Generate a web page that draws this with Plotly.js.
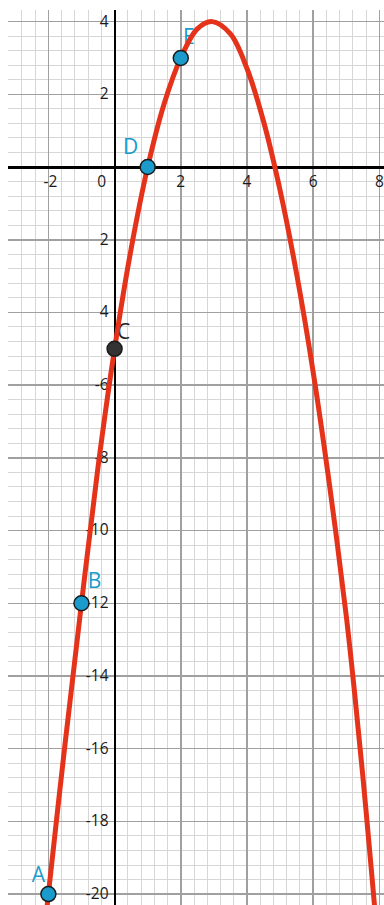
<!DOCTYPE html>
<html>
<head>
<meta charset="utf-8">
<script src="https://cdn.plot.ly/plotly-3.0.1.min.js"></script>
<style>
  html, body { margin: 0; padding: 0; background: #ffffff; }
  #chart { width: 384px; height: 905px; }
</style>
</head>
<body>
<div id="chart"></div>
<script>
// Parabola traced across the grid, sampled every half unit of x
const curveX = [-2.05, -2.0, -1.5, -1.0, -0.5, 0, 0.5, 1.0, 1.5, 2.0, 2.5, 2.95, 3.5, 4.0, 4.5, 5.0, 5.5, 6.0, 6.5, 7.0, 7.25, 7.5, 7.75, 7.9];
const curveY = [-20.45, -20, -15.9, -12, -8.25, -5, -2.25, 0, 1.75, 3, 3.8, 4.0, 3.66, 2.71, 1.26, -0.64, -2.94, -5.64, -8.79, -12.35, -14.45, -16.75, -19.25, -20.8];

// Labelled points
const pointNames = ['A', 'B', 'C', 'D', 'E'];
const pointX = [-2, -1, 0, 1, 2];
const pointY = [-20, -12, -5, 0, 3];

// Axis tick labels (written beside the axes)
const xTickVals = [-2, 0, 2, 4, 6, 8];
const xTickText = ['-2', '0', '2', '4', '6', '8'];
const yTickVals = [4, 2, -2, -4, -6, -8, -10, -12, -14, -16, -18, -20];
const yTickText = ['4', '2', '2', '4', '-6', '-8', '-10', '-12', '-14', '-16', '-18', '-20'];

// ---- layout geometry ----
const W = 384, H = 905;
const M = { l: 8, r: 0, t: 10, b: 0 };
const xRange = [-3.22, 8.14];
const yRange = [-20.30, 4.32];
const unitX = (xRange[1] - xRange[0]) / (W - M.l - M.r);   // data units per pixel
const unitY = (yRange[1] - yRange[0]) / (H - M.t - M.b);

const blue = '#1a9bcb';
const red = '#e5321a';
const FONT = '"Open Sans", "Noto Sans", sans-serif';
const TICK_SIZE = 15.5;

// x tick labels sit just under the horizontal axis; "0" moves left of the vertical axis
const xLabX = xTickVals.map(v => v === 0 ? v - 13 * unitX : v + (v < 0 ? 2 * unitX : 0));
const xLabY = xTickVals.map(() => -16 * unitY);

// y tick labels are right-aligned just left of the vertical axis
const yLabX = yTickVals.map(() => -6 * unitX);
const yLabY = yTickVals.map(v => v - 1 * unitY);

// point letters, offset in pixels from each point
const nameOffsets = { A: [-10, 17], B: [13, 21], C: [9, 15], D: [-17, 18], E: [8, 19] };
const nameX = pointNames.map((n, i) => pointX[i] + nameOffsets[n][0] * unitX);
const nameY = pointNames.map((n, i) => pointY[i] + nameOffsets[n][1] * unitY);
const nameColors = pointNames.map(n => n === 'C' ? '#1e1e1e' : blue);
const fillColors = pointNames.map(n => n === 'C' ? '#333333' : blue);

const traces = [
  {
    type: 'scatter', mode: 'text', x: xLabX, y: xLabY, text: xTickText,
    textposition: 'middle center', hoverinfo: 'skip', showlegend: false,
    textfont: { family: FONT, size: TICK_SIZE, color: '#1a1a1a' }, cliponaxis: false
  },
  {
    type: 'scatter', mode: 'text', x: yLabX, y: yLabY, text: yTickText,
    textposition: 'middle left', hoverinfo: 'skip', showlegend: false,
    textfont: { family: FONT, size: TICK_SIZE, color: '#1a1a1a' }, cliponaxis: false
  },
  {
    type: 'scatter', mode: 'text', x: nameX, y: nameY, text: pointNames,
    textposition: 'middle center', hoverinfo: 'skip', showlegend: false,
    textfont: { family: FONT, size: 21, color: nameColors }, cliponaxis: false
  },
  {
    type: 'scatter', mode: 'lines', x: curveX, y: curveY,
    line: { color: red, width: 5, shape: 'spline', smoothing: 1 },
    hoverinfo: 'skip', showlegend: false
  },
  {
    type: 'scatter', mode: 'markers', x: pointX, y: pointY, text: pointNames,
    marker: { size: 15, color: fillColors, line: { color: '#1b1b1b', width: 1.5 } },
    showlegend: false, cliponaxis: false
  }
];

const layout = {
  width: W, height: H,
  margin: M,
  paper_bgcolor: '#ffffff', plot_bgcolor: '#ffffff',
  showlegend: false,
  xaxis: {
    range: xRange, tick0: 0, dtick: 2, showticklabels: false, ticks: '',
    showgrid: true, gridcolor: '#a0a0a0', gridwidth: 1.5,
    minor: { tick0: 0, dtick: 0.4, showgrid: true, gridcolor: '#d6d6d6', gridwidth: 1 },
    zeroline: true, zerolinecolor: '#000000', zerolinewidth: 2,
    showline: false, fixedrange: true
  },
  yaxis: {
    range: yRange, tick0: 0, dtick: 2, showticklabels: false, ticks: '',
    showgrid: true, gridcolor: '#a0a0a0', gridwidth: 1.5,
    minor: { tick0: 0, dtick: 0.4, showgrid: true, gridcolor: '#d6d6d6', gridwidth: 1 },
    zeroline: true, zerolinecolor: '#000000', zerolinewidth: 3,
    showline: false, fixedrange: true
  }
};

Plotly.newPlot('chart', traces, layout, { displayModeBar: false, staticPlot: true });
</script>
</body>
</html>
